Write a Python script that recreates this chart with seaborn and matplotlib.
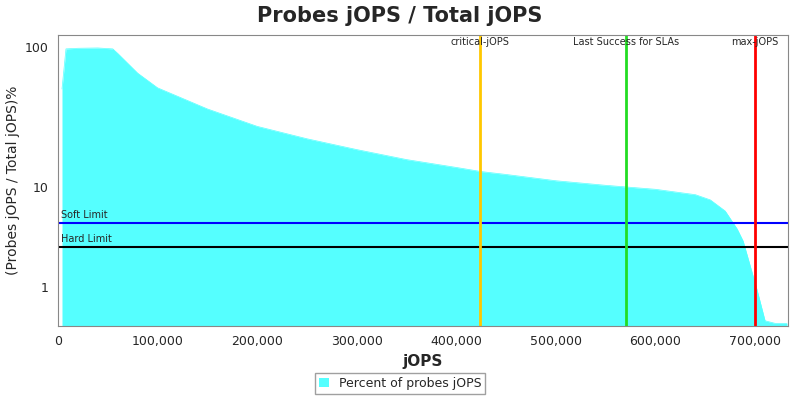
import numpy as np
import pandas as pd
import matplotlib
matplotlib.use('Agg')
import matplotlib.pyplot as plt
import seaborn as sns

# values
jops = [4000, 8000, 20000, 40000, 55000, 60000, 80000, 100000, 150000, 200000, 250000,
        300000, 350000, 400000, 425000, 450000, 500000, 550000, 600000, 640000, 655000,
        670000, 682000, 688000, 695000, 702000, 710000, 720000, 732000]
pct = [50, 97, 98, 98.5, 97, 90, 65, 51, 36, 27, 22,
       18.4, 15.6, 13.7, 12.8, 12.2, 11.0, 10.2, 9.5, 8.6, 7.8,
       6.3, 4.4, 3.4, 1.9, 0.9, 0.1, 0.05, 0.05]
limits = {'Soft Limit': (5, 'blue'), 'Hard Limit': (3, 'black')}
markers = {'critical-jOPS': (424000, '#FFC800'),
           'Last Success for SLAs': (570000, '#22DD22'),
           'max-jOPS': (700000, 'red')}

df = pd.DataFrame({'jOPS': jops, 'pct': pct})

# JFreeChart-style adjusted log scale
def fwd(v):
    v = np.asarray(v, dtype=float)
    small = np.log10(np.clip(0.9 * v + 1, 1e-9, None))
    big = np.log10(np.clip(v, 1e-9, None))
    return np.where(v < 10, small, big)

def inv(y):
    y = np.asarray(y, dtype=float)
    return np.where(y < 1, (10 ** y - 1) / 0.9, 10 ** y)

sns.set_style('white')
fig = plt.figure(figsize=(8, 4), dpi=100)
ax = fig.add_axes([0.0725, 0.185, 0.9125, 0.7275])
ax.set_yscale('function', functions=(fwd, inv))

ax.fill_between(df['jOPS'], 0, df['pct'], color='#55FFFF', lw=0, label='Percent of probes jOPS')
sns.lineplot(data=df, x='jOPS', y='pct', ax=ax, color='#55FFFF', lw=0.5, legend=False)

for name, (val, col) in limits.items():
    ax.axhline(val, color=col, lw=1.5)
    ax.text(3000, val * 1.06, name, fontsize=7, va='bottom')
for name, (x, col) in markers.items():
    ax.axvline(x, color=col, lw=2)
    ax.text(x, 118, name, fontsize=7, ha='center', va='top')

ax.set_xlim(0, 733000)
ax.set_ylim(0, 122)
ax.set_yticks([1, 10, 100])
ax.set_yticklabels(['1', '10', '100'])
ax.minorticks_off()
ax.xaxis.set_major_formatter(matplotlib.ticker.FuncFormatter(lambda v, p: f'{int(v):,}'))
ax.set_xticks(range(0, 800000, 100000))
ax.tick_params(labelsize=9, length=3)
for s in ax.spines.values():
    s.set_color('#888888')
ax.set_xlabel('jOPS', fontsize=11, fontweight='bold')
ax.set_ylabel('(Probes jOPS / Total jOPS)%', fontsize=10)
fig.suptitle('Probes jOPS / Total jOPS', fontsize=15, fontweight='bold', y=0.985)
fig.legend(handles=[ax.collections[0]], loc='lower center', bbox_to_anchor=(0.5, 0.0),
           fontsize=9, frameon=True, fancybox=False, edgecolor='#888888',
           handlelength=0.8, borderpad=0.3)

plt.savefig('out.png', dpi=100)
